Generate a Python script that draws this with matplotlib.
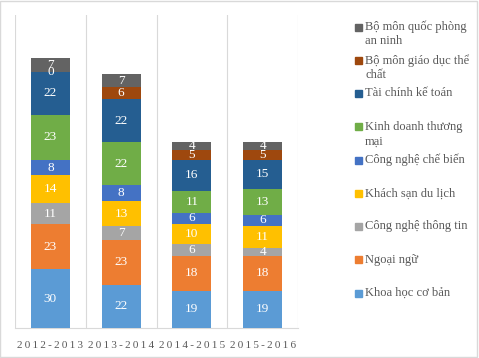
import matplotlib
matplotlib.use('Agg')
import matplotlib.pyplot as plt
from matplotlib.patches import Rectangle
import numpy as np

# Du lieu doc tu bieu do goc
nam_hoc = ['2012-2013', '2013-2014', '2014-2015', '2015-2016']
khoa = ['Khoa học cơ bản', 'Ngoại ngữ', 'Công nghệ thông tin', 'Khách sạn du lịch',
        'Công nghệ chế biến', 'Kinh doanh thương\nmại', 'Tài chính kế toán',
        'Bộ môn giáo dục thể\nchất', 'Bộ môn quốc phòng\nan ninh']
khoa_hoc_co_ban = [30, 22, 19, 19]
ngoai_ngu = [23, 23, 18, 18]
cong_nghe_thong_tin = [11, 7, 6, 4]
khach_san_du_lich = [14, 13, 10, 11]
cong_nghe_che_bien = [8, 8, 6, 6]
kinh_doanh_thuong_mai = [23, 22, 11, 13]
tai_chinh_ke_toan = [22, 22, 16, 15]
giao_duc_the_chat = [0, 6, 5, 5]
quoc_phong_an_ninh = [7, 7, 4, 4]

series = [khoa_hoc_co_ban, ngoai_ngu, cong_nghe_thong_tin, khach_san_du_lich,
          cong_nghe_che_bien, kinh_doanh_thuong_mai, tai_chinh_ke_toan,
          giao_duc_the_chat, quoc_phong_an_ninh]
mau = ['#5B9BD5', '#ED7D31', '#A5A5A5', '#FFC000', '#4472C4',
       '#70AD47', '#255E91', '#9E480E', '#636363']

plt.rcParams['font.family'] = ['Liberation Serif', 'DejaVu Serif']

fig = plt.figure(figsize=(4.79, 3.58), dpi=100)
fig.patches.append(Rectangle((0.001, 0.002), 0.995, 0.995, transform=fig.transFigure,
                             fill=False, edgecolor='#D9D9D9', linewidth=1))
ax = fig.add_axes([15 / 479, 1 - 328 / 358, 283 / 479, 313 / 358])

x = np.arange(len(nam_hoc))
day = np.zeros(len(nam_hoc))
for vals, c in zip(series, mau):
    bars = ax.bar(x, vals, 0.55, bottom=day, color=c, zorder=3)
    ax.bar_label(bars, labels=[str(v) for v in vals], label_type='center',
                 color='white', fontsize=9.5, zorder=4)
    day += np.array(vals)

ax.set_xlim(-0.5, 3.5)
ax.set_ylim(0, 160)
ax.set_yticks([])
ax.set_xticks(x)
ax.set_xticklabels(['\u2009'.join(s) for s in nam_hoc], color='#595959', fontsize=8)
ax.tick_params(axis='x', length=0, pad=9)
for xv in np.arange(-0.5, 4, 1):
    ax.axvline(xv, color='#D9D9D9', linewidth=0.8, zorder=1)
for s in ['top', 'left', 'right']:
    ax.spines[s].set_visible(False)
ax.spines['bottom'].set_color('#D9D9D9')

# Chu giai ben phai (thu tu nguoc)
y0 = 27
for i, (ten, c) in enumerate(zip(khoa[::-1], mau[::-1])):
    yc = y0 + i * 33.25
    fig.patches.append(Rectangle((355 / 479, 1 - (yc + 3.5) / 358), 7 / 479, 7 / 358,
                                 transform=fig.transFigure, color=c))
    for j, dong in enumerate(ten.split('\n')):
        fig.text(365 / 479, 1 - (yc + j * 14.5) / 358, dong, va='center', ha='left',
                 fontsize=9, color='#595959')

plt.savefig('out.png', dpi=100)
